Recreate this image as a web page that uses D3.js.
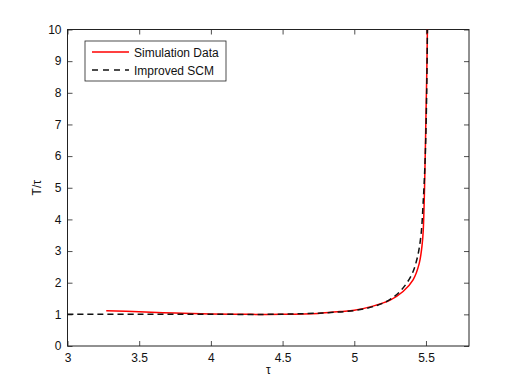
<!DOCTYPE html>
<html><head><meta charset="utf-8">
<script src="https://cdn.jsdelivr.net/npm/d3@7"></script>
<style>body{margin:0;background:#fff}svg{display:block}text{font-family:"Liberation Sans",Arial,sans-serif}</style>
</head><body>
<script>
const xTicks = [3, 3.5, 4, 4.5, 5, 5.5];
const yTicks = [0,1,2,3,4,5,6,7,8,9,10];
const simTau = [3.27,3.5,3.75,4.0,4.25,4.5,4.75,4.9,5.0,5.13,5.25,5.34,5.41,5.453,5.474,5.481,5.49,5.498,5.505,5.51];
const simVal = [1.115,1.08,1.04,1.012,1.0,1.0,1.03,1.09,1.13,1.26,1.45,1.72,2.09,2.61,3.24,3.66,5.0,6.82,8.5,10];
const scmTau = [3.0,3.5,4.0,4.5,4.8,5.0,5.15,5.25,5.33,5.4,5.44,5.465,5.48,5.495,5.505,5.51];
const scmVal = [1.0,1.0,1.0,1.005,1.05,1.12,1.27,1.47,1.78,2.25,2.8,3.5,4.5,6.0,8.0,10];
const legendLabels = ["Simulation Data","Improved SCM"];

const W=518,H=390;
const svg=d3.select("body").append("svg").attr("width",W).attr("height",H);
const L=67.5,R=469,T=29.5,B=346;
const x=d3.scaleLinear().domain([3,5.8]).range([L,R]);
const y=d3.scaleLinear().domain([0,10]).range([B,T]);

const fs=12;
svg.append("rect").attr("x",L).attr("y",T).attr("width",R-L).attr("height",B-T).attr("fill","#fff");

// axes
const gx=svg.append("g").attr("transform",`translate(0,${B})`)
 .call(d3.axisBottom(x).tickValues(xTicks).tickFormat(d3.format("")).tickSizeInner(-5).tickSizeOuter(0).tickPadding(7));
const gxt=svg.append("g").attr("transform",`translate(0,${T})`)
 .call(d3.axisTop(x).tickValues(xTicks).tickFormat("").tickSizeInner(-5).tickSizeOuter(0));
const gy=svg.append("g").attr("transform",`translate(${L},0)`)
 .call(d3.axisLeft(y).tickValues(yTicks).tickFormat(d3.format("")).tickSizeInner(-5).tickSizeOuter(0).tickPadding(6));
const gyr=svg.append("g").attr("transform",`translate(${R},0)`)
 .call(d3.axisRight(y).tickValues(yTicks).tickFormat("").tickSizeInner(-5).tickSizeOuter(0));
[gx,gxt,gy,gyr].forEach(g=>{
  g.select(".domain").remove();
  g.selectAll(".tick line").attr("stroke","#222").attr("stroke-width",0.8);
  g.selectAll("text").attr("font-size",fs).attr("fill","#111").attr("font-family","Liberation Sans, Arial, sans-serif");
});
svg.append("rect").attr("x",L).attr("y",T).attr("width",R-L).attr("height",B-T)
 .attr("fill","none").attr("stroke","#222").attr("stroke-width",1);

// lines
const line=d3.line().x(d=>x(d[0])).y(d=>y(d[1])).curve(d3.curveCatmullRom.alpha(0.5));
const sim=simTau.map((t,i)=>[t,simVal[i]]);
const scm=scmTau.map((t,i)=>[t,scmVal[i]]);
svg.append("path").attr("d",line(sim)).attr("fill","none").attr("stroke","#ff0000").attr("stroke-width",1.5);
svg.append("path").attr("d",line(scm)).attr("fill","none").attr("stroke","#111").attr("stroke-width",1.5).attr("stroke-dasharray","6,4");

// labels
svg.append("text").attr("x",x(4.4)).attr("y",374).attr("text-anchor","middle").attr("font-size",fs).attr("fill","#111").text("τ");
svg.append("text").attr("transform",`translate(41,${(T+B)/2}) rotate(-90)`).attr("text-anchor","middle").attr("font-size",fs).attr("fill","#111").text("T/τ");

// legend
const lg=svg.append("g");
lg.append("rect").attr("x",85).attr("y",41).attr("width",141).attr("height",40).attr("fill","#fff").attr("stroke","#222").attr("stroke-width",0.8);
const ly=[52,70];
lg.append("line").attr("x1",92).attr("x2",129).attr("y1",ly[0]).attr("y2",ly[0]).attr("stroke","#ff0000").attr("stroke-width",1.5);
lg.append("line").attr("x1",92).attr("x2",129).attr("y1",ly[1]).attr("y2",ly[1]).attr("stroke","#111").attr("stroke-width",1.5).attr("stroke-dasharray","6,5");
legendLabels.forEach((s,i)=>lg.append("text").attr("x",134).attr("y",ly[i]+4.5).attr("font-size",fs).attr("fill","#111").text(s));
</script>
</body></html>
